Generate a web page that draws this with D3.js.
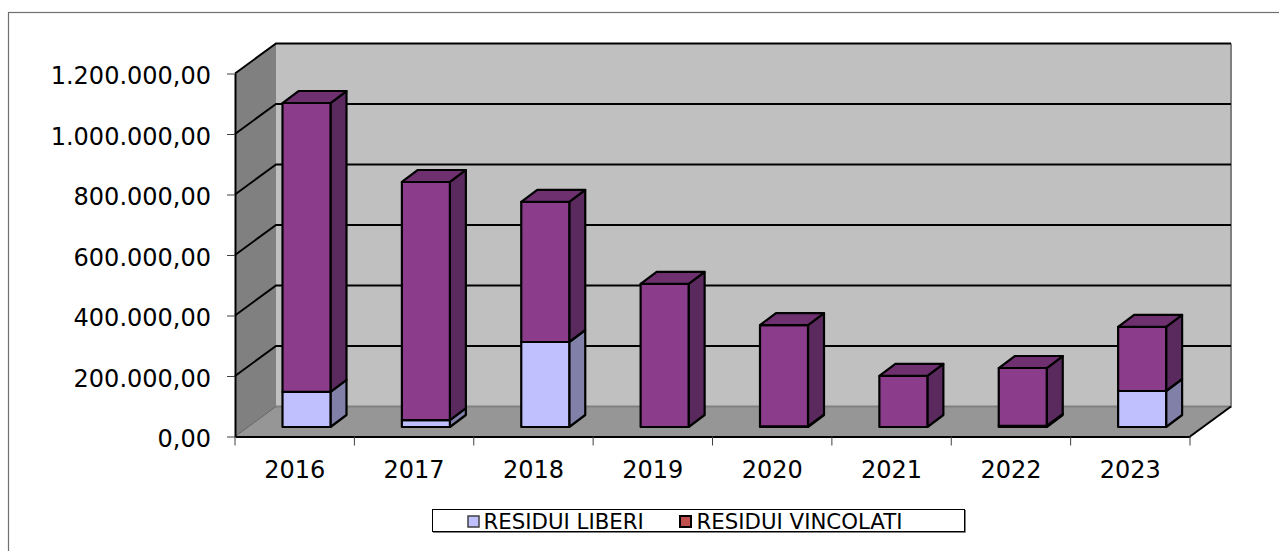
<!DOCTYPE html>
<html><head><meta charset="utf-8">
<script src="https://cdn.jsdelivr.net/npm/d3@7"></script>
<style>html,body{margin:0;padding:0;background:#fff;overflow:hidden}svg{display:block}text{font-family:"DejaVu Sans",Verdana,sans-serif;fill:#000}</style>
</head><body><svg id="c" width="1279" height="551"></svg>
<script>
const categories=["2016","2017","2018","2019","2020","2021","2022","2023"];
const residuiLiberi=[116000,23000,281000,0,2000,0,4000,119000];
const residuiVincolati=[955000,787000,463000,473000,335000,169000,191000,212000];
const yTicks=[0,200000,400000,600000,800000,1000000,1200000];
const tickLabels=["0,00","200.000,00","400.000,00","600.000,00","800.000,00","1.000.000,00","1.200.000,00"];
const legendLabels=["RESIDUI LIBERI","RESIDUI VINCOLATI"];
const C={lib:"#C0C0FF",libS:"#8080A8",vin:"#8B3D8B",vinT:"#6F3070",vinS:"#5A2A5E",legendVin:"#C0504D",wall:"#C0C0C0",side:"#808080",floor:"#969696"};
const svg=d3.select("#c");
const x=d3.scaleBand().domain(categories).range([235,1190]);
const y=d3.scaleLinear().domain([0,1200000]).range([436.5,73.5]);
const wd=41,hd=-30; // wall depth
const bd=16,bh=-12; // bar depth
const bw=48;
const line=d3.line();
const poly=(pts,fill,stroke,sw)=>svg.append("path").attr("d",line(pts)+"Z").attr("fill",fill).attr("stroke",stroke||"none").attr("stroke-width",sw||0).attr("stroke-linejoin","round");
// frame (runs off the right and bottom edges)
svg.append("rect").attr("x",8.5).attr("y",12.5).attr("width",1290).attr("height",560).attr("fill","#fff").attr("stroke","#707070").attr("stroke-width",1.2);
const [x0,x1]=x.range(), yb=y(0), yt=y(1200000);
poly([[x0+wd,yb+hd],[x1+wd,yb+hd],[x1+wd,yt+hd],[x0+wd,yt+hd]],C.wall);
poly([[x0,yb],[x0+wd,yb+hd],[x0+wd,yt+hd],[x0,yt]],C.side);
poly([[x0,yb],[x1,yb],[x1+wd,yb+hd],[x0+wd,yb+hd]],C.floor);
// outlines
svg.append("path").attr("d",`M${x0+wd},${yb+hd}H${x1+wd}V${yt+hd}`).attr("fill","none").attr("stroke","#808080").attr("stroke-width",2);
svg.append("path").attr("d",`M${x0},${yb}L${x0+wd},${yb+hd}`).attr("stroke","#606060").attr("stroke-width",1);
svg.append("path").attr("d",`M${x1},${yb}L${x1+wd},${yb+hd}`).attr("stroke","#000").attr("stroke-width",2);
// gridlines
yTicks.slice(1).forEach(t=>{
  svg.append("path").attr("d",line([[x0,y(t)],[x0+wd,y(t)+hd],[x1+wd,y(t)+hd]])).attr("fill","none").attr("stroke","#000").attr("stroke-width",2);
});
// axes
const axL=svg.append("g").attr("transform",`translate(${x0},0)`).call(d3.axisLeft(y).tickValues(yTicks).tickFormat((d,i)=>tickLabels[i]).tickSize(8).tickSizeOuter(0).tickPadding(16));
const axB=svg.append("g").attr("transform",`translate(0,${yb})`).call(d3.axisBottom(x).tickSize(0).tickSizeOuter(0));
[axL,axB].forEach(a=>{a.selectAll("text").style("font-size","24px");a.select(".domain").attr("stroke","#000").attr("stroke-width",2);a.selectAll("line").attr("stroke","#404040");});
axL.selectAll("text").attr("dy","10.3");
axB.selectAll("text").attr("y",41).attr("dy","0");
[...categories.map(c=>x(c)),x1].forEach(v=>svg.append("line").attr("x1",v).attr("x2",v).attr("y1",yb).attr("y2",yb+9).attr("stroke","#404040"));
// bars: baseline sits inside the floor depth
const base=-9.5;
const by=v=>y(v)+base;
categories.forEach((c,i)=>{
  const L=x(c)+47.5, R=L+bw;
  const l=residuiLiberi[i], t=l+residuiVincolati[i];
  const seg=(a,b,f,side,top)=>{
    const ya=by(a),yb2=by(b);
    poly([[R,ya],[R+bd,ya+bh],[R+bd,yb2+bh],[R,yb2]],side,"#000",2.2);
    poly([[L,ya],[R,ya],[R,yb2],[L,yb2]],f,"#000",2.2);
    if(top) poly([[L,yb2],[R,yb2],[R+bd,yb2+bh],[L+bd,yb2+bh]],top,"#000",2.2);
  };
  if(l>0) seg(0,l,C.lib,C.libS);
  seg(l,t,C.vin,C.vinS,C.vinT);
});
// legend
svg.append("rect").attr("x",432.5).attr("y",509.5).attr("width",532).attr("height",22).attr("fill","#fff").attr("stroke","#000");
svg.append("path").attr("d","M433,532.5H965.5V510").attr("fill","none").attr("stroke","#808080");
const lx=[468,680], tx=[483.5,696.5];
legendLabels.forEach((t,i)=>{
  svg.append("rect").attr("x",lx[i]).attr("y",516).attr("width",11).attr("height",11).attr("fill",i?C.legendVin:C.lib).attr("stroke",i?"#000":"#404040").attr("stroke-width",i?2:1.5);
  svg.append("text").attr("x",tx[i]).attr("y",529).style("font-size","21.3px").text(t);
});
</script></body></html>
